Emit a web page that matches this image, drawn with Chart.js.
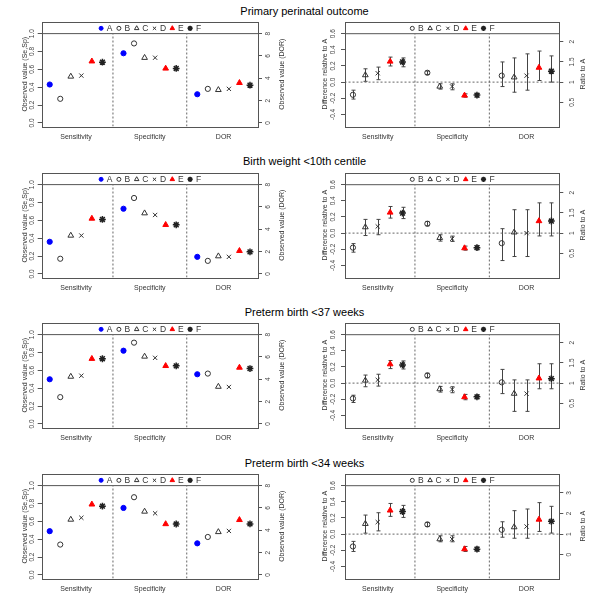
<!DOCTYPE html>
<html><head><meta charset="utf-8">
<script src="https://cdn.jsdelivr.net/npm/chart.js@4/dist/chart.umd.min.js"></script>
<style>
html,body{margin:0;padding:0;background:#fff;width:600px;height:600px;overflow:hidden;position:relative;font-family:"Liberation Sans",Arial,sans-serif;}
.title{position:absolute;left:0;width:609px;text-align:center;font-size:11px;color:#000;line-height:12px;white-space:nowrap;}
canvas{position:absolute;}
</style></head><body>
<script>
// ---------------- data ----------------
const TITLES = ["Primary perinatal outcome", "Birth weight <10th centile", "Preterm birth <37 weeks", "Preterm birth <34 weeks"];
const METHODS = ["A", "B", "C", "D", "E", "F"];
const MEASURES = ["Sensitivity", "Specificity", "DOR"];

// Observed values, methods A..F (one row per outcome)
const OBS_SENS = [
  [0.43, 0.27, 0.52, 0.53, 0.69, 0.68],
  [0.36, 0.17, 0.43, 0.43, 0.62, 0.61],
  [0.50, 0.30, 0.53, 0.54, 0.73, 0.73],
  [0.49, 0.34, 0.62, 0.64, 0.79, 0.77]];
const OBS_SPEC = [
  [0.78, 0.89, 0.73, 0.73, 0.61, 0.61],
  [0.73, 0.85, 0.68, 0.66, 0.55, 0.55],
  [0.82, 0.91, 0.755, 0.74, 0.65, 0.65],
  [0.75, 0.87, 0.71, 0.69, 0.57, 0.57]];
const OBS_DOR = [
  [2.57, 3.05, 2.96, 3.05, 3.59, 3.38],
  [1.53, 1.17, 1.59, 1.53, 2.07, 1.98],
  [4.45, 4.51, 3.34, 3.31, 5.05, 4.96],
  [2.83, 3.40, 3.85, 3.94, 4.93, 4.57]];

// Differences relative to A, methods B..F
const DIFF_SENS = [
  [-0.157, 0.087, 0.11, 0.256, 0.25],
  [-0.18, 0.074, 0.083, 0.256, 0.248],
  [-0.19, 0.033, 0.04, 0.235, 0.226],
  [-0.153, 0.128, 0.149, 0.294, 0.28]];
const DIFF_SENS_LO = [
  [-0.21, 0.01, 0.03, 0.20, 0.19],
  [-0.236, -0.03, -0.02, 0.186, 0.18],
  [-0.24, -0.045, -0.037, 0.18, 0.175],
  [-0.215, 0.012, 0.04, 0.22, 0.207]];
const DIFF_SENS_HI = [
  [-0.10, 0.165, 0.186, 0.31, 0.30],
  [-0.13, 0.17, 0.17, 0.33, 0.32],
  [-0.15, 0.10, 0.11, 0.28, 0.275],
  [-0.09, 0.236, 0.265, 0.38, 0.356]];
const DIFF_SPEC = [
  [0.116, -0.054, -0.054, -0.165, -0.161],
  [0.116, -0.058, -0.07, -0.186, -0.18],
  [0.095, -0.074, -0.078, -0.173, -0.17],
  [0.12, -0.062, -0.062, -0.186, -0.186]];
const DIFF_SPEC_LO = [
  [0.095, -0.087, -0.095, -0.186, -0.186],
  [0.091, -0.099, -0.103, -0.211, -0.207],
  [0.066, -0.111, -0.119, -0.206, -0.193],
  [0.095, -0.095, -0.095, -0.215, -0.211]];
const DIFF_SPEC_HI = [
  [0.137, -0.021, -0.021, -0.145, -0.141],
  [0.145, -0.021, -0.037, -0.161, -0.157],
  [0.123, -0.041, -0.045, -0.14, -0.144],
  [0.145, -0.021, -0.021, -0.153, -0.161]];
const RATIO_DOR = [
  [1.16, 1.12, 1.16, 1.36, 1.27],
  [0.75, 1.02, 1.00, 1.30, 1.30],
  [1.02, 0.74, 0.74, 1.12, 1.11],
  [1.21, 1.34, 1.37, 1.71, 1.62]];
const RATIO_DOR_LO = [
  [0.89, 0.75, 0.80, 1.04, 1.00],
  [0.32, 0.42, 0.42, 0.93, 0.93],
  [0.74, 0.30, 0.30, 0.86, 0.86],
  [0.85, 0.80, 0.80, 1.13, 1.05]];
const RATIO_DOR_HI = [
  [1.50, 1.60, 1.70, 1.77, 1.65],
  [1.11, 1.58, 1.58, 1.75, 1.75],
  [1.34, 1.08, 1.08, 1.48, 1.48],
  [1.60, 2.14, 2.22, 2.53, 2.35]];

// Tick labels
const OBS_TICKS = [0, 0.2, 0.4, 0.6, 0.8, 1.0];
const DOR_TICKS = [0, 2, 4, 6, 8];
const DIFF_TICKS = [-0.4, -0.2, 0.0, 0.2, 0.4, 0.6];
const RATIO_TICKS = [[0.5, 1, 1.5, 2], [0.5, 1, 1.5, 2], [0.5, 1, 1.5, 2], [0, 1, 2, 3]];
// ratio axis: difference-units per ratio unit
const RATIO_UNIT = [0.5, 0.5, 0.5, 0.255];

// ---------------- layout / style ----------------
const ROW_TOP = [0, 150.7, 301.3, 452.3];
const STYLE = [
  { pointStyle: 'circle', bg: '#0000ff', border: '#0000ff', r: 2.6, lr: 2.0, bw: 1 },
  { pointStyle: 'circle', bg: 'rgba(0,0,0,0)', border: '#333', r: 2.6, lr: 2.0, bw: 1 },
  { pointStyle: 'triangle', bg: 'rgba(0,0,0,0)', border: '#333', r: 3.3, lr: 2.6, bw: 1 },
  { pointStyle: 'crossRot', bg: 'rgba(0,0,0,0)', border: '#333', r: 3.0, lr: 2.3, bw: 1 },
  { pointStyle: 'triangle', bg: '#ff0000', border: '#ff0000', r: 3.3, lr: 2.6, bw: 1 },
  { pointStyle: 'star', bg: '#222', border: '#222', r: 3.4, lr: 2.6, bw: 1.5 }
];
const FONT = "'Liberation Sans', Arial, sans-serif";
Chart.defaults.font.family = FONT;
Chart.defaults.color = '#444';

function drawMarker(ctx, st, r, x, y) {
  ctx.save();
  ctx.fillStyle = st.bg; ctx.strokeStyle = st.border; ctx.lineWidth = st.bw;
  if (Chart.helpers && Chart.helpers.drawPoint) {
    Chart.helpers.drawPoint(ctx, { pointStyle: st.pointStyle, radius: r, rotation: 0, borderWidth: st.bw }, x, y);
  } else {
    ctx.beginPath(); ctx.arc(x, y, r, 0, Math.PI * 2); ctx.fill(); ctx.stroke();
  }
  ctx.restore();
}

const rExtras = {
  id: 'rExtras',
  beforeDatasetsDraw(chart) {
    const ctx = chart.ctx;
    chart.data.datasets.forEach(ds => {
      if (!ds.errorBars) return;
      const ys = chart.scales[ds.yAxisID], xs = chart.scales.x;
      ctx.save(); ctx.strokeStyle = '#444'; ctx.lineWidth = 1;
      ds.data.forEach(d => {
        const px = Math.round(xs.getPixelForValue(d.x)) + 0.5;
        const p1 = ys.getPixelForValue(d.lo), p2 = ys.getPixelForValue(d.hi);
        ctx.beginPath();
        ctx.moveTo(px, p1); ctx.lineTo(px, p2);
        ctx.moveTo(px - 2, p1); ctx.lineTo(px + 2, p1);
        ctx.moveTo(px - 2, p2); ctx.lineTo(px + 2, p2);
        ctx.stroke();
      });
      ctx.restore();
    });
  },
  afterDraw(chart) {
    const o = chart.options.plugins.rExtras;
    const ctx = chart.ctx, a = chart.chartArea;
    ctx.save();
    ctx.strokeStyle = '#555'; ctx.lineWidth = 1;
    ctx.strokeRect(Math.round(a.left) + 0.5, Math.round(a.top) + 0.5, Math.round(a.right - a.left), Math.round(a.bottom - a.top));
    // legend band
    const bandY = chart.scales.y.getPixelForValue(o.bandAt);
    const cy = (a.top + bandY) / 2 + 0.5;
    const n = o.items.length, pitch = 17.8, gap = 8.5;
    const cx = (a.left + a.right) / 2;
    let x0 = cx - ((n - 1) * pitch + gap) / 2;
    ctx.font = "8.5px " + FONT; ctx.textAlign = 'center'; ctx.textBaseline = 'middle';
    o.items.forEach((mi, k) => {
      const mx = x0 + k * pitch;
      drawMarker(ctx, STYLE[mi], STYLE[mi].lr, mx, cy);
      ctx.fillStyle = '#333';
      ctx.fillText(METHODS[mi], mx + gap, cy + 0.5);
    });
    // axis titles (R style, both read bottom-to-top)
    ctx.font = "7px " + FONT; ctx.fillStyle = '#333';
    const my = (a.top + a.bottom) / 2;
    [[o.leftTitleX, o.leftTitle], [o.rightTitleX, o.rightTitle]].forEach(([x, t]) => {
      ctx.save(); ctx.translate(x, my); ctx.rotate(-Math.PI / 2);
      ctx.textAlign = 'center'; ctx.textBaseline = 'middle'; ctx.fillText(t, 0, 0);
      ctx.restore();
    });
    ctx.restore();
  }
};

function lineDs(points, yAxisID, dash) {
  return { type: 'line', data: points, yAxisID, showLine: true, borderColor: dash.length ? '#666' : '#555', borderWidth: 1,
    borderDash: dash, pointRadius: 0, fill: false, order: 20, tension: 0 };
}

function pointDs(mi, data, yAxisID, err) {
  const st = STYLE[mi];
  return { label: METHODS[mi], data, yAxisID, pointStyle: st.pointStyle, pointRadius: st.r,
    pointBackgroundColor: st.bg, pointBorderColor: st.border, pointBorderWidth: st.bw,
    showLine: false, errorBars: !!err, order: 1 };
}

function yAxis(pos, min, max, ticks, fmt, width, pad) {
  return {
    type: 'linear', position: pos, min, max,
    grid: { drawOnChartArea: false, drawTicks: true, tickLength: 4, tickColor: '#555', color: '#555' },
    border: { display: false },
    afterBuildTicks: s => { s.ticks = ticks.map(v => ({ value: v })); },
    afterFit: s => { s.width = width; },
    ticks: { minRotation: 90, maxRotation: 90, crossAlign: 'center', padding: pad,
      font: { size: 6.5 }, color: '#444', callback: v => fmt(v) }
  };
}

function xAxis(min, max, tickVals) {
  return {
    type: 'linear', position: 'bottom', min, max,
    grid: { drawOnChartArea: false, drawTicks: false, tickLength: 0, display: true },
    border: { display: false },
    afterBuildTicks: s => { s.ticks = tickVals.map(v => ({ value: v })); },
    afterFit: s => { s.height = 23.5; },
    ticks: { autoSkip: false, maxRotation: 0, minRotation: 0, padding: 6, font: { size: 7 }, color: '#333',
      callback: v => MEASURES[tickVals.indexOf(v)] }
  };
}

function makeCanvas(x, y) {
  const c = document.createElement('canvas');
  c.width = 300; c.height = 150;
  c.style.left = x + 'px'; c.style.top = y + 'px';
  c.style.width = '300px'; c.style.height = '150px';
  document.body.appendChild(c);
  return c;
}

const OBS_Y = [-0.04, 1.13];
const DIFF_Y = [-0.55, 0.745];

for (let r = 0; r < 4; r++) {
  const t = document.createElement('div');
  t.className = 'title'; t.style.top = (ROW_TOP[r] + 4.5) + 'px'; t.textContent = TITLES[r];
  document.body.appendChild(t);

  // ---- left panel: observed values ----
  const dsL = [];
  for (let i = 0; i < 6; i++) {
    dsL.push(pointDs(i, [{ x: 1 + i, y: OBS_SENS[r][i] }, { x: 8 + i, y: OBS_SPEC[r][i] }], 'y', false));
    dsL.push(pointDs(i, [{ x: 15 + i, y: OBS_DOR[r][i] }], 'y2', false));
  }
  dsL.push(lineDs([{ x: 7, y: OBS_Y[0] }, { x: 7, y: 1 }], 'y', [2, 2]));
  dsL.push(lineDs([{ x: 14, y: OBS_Y[0] }, { x: 14, y: 1 }], 'y', [2, 2]));
  dsL.push(lineDs([{ x: 0, y: 1 }, { x: 22, y: 1 }], 'y', []));
  new Chart(makeCanvas(0, ROW_TOP[r]), {
    type: 'scatter',
    data: { datasets: dsL },
    options: {
      responsive: false, animation: false, devicePixelRatio: 1,
      layout: { padding: { top: 22, left: 0, right: 0, bottom: 0 } },
      plugins: { legend: { display: false }, tooltip: { enabled: false },
        rExtras: { items: [0, 1, 2, 3, 4, 5], bandAt: 1.0, leftTitle: 'Observed value (Se,Sp)', leftTitleX: 25,
          rightTitle: 'Observed value (DOR)', rightTitleX: 281.7 } },
      scales: {
        x: xAxis(0.24, 20.76, [3.5, 10.5, 17.5]),
        y: yAxis('left', OBS_Y[0], OBS_Y[1], OBS_TICKS, v => v.toFixed(1), 41.7, 1),
        y2: yAxis('right', OBS_Y[0] * 8, OBS_Y[1] * 8, DOR_TICKS, v => String(v), 42, 4.6)
      }
    },
    plugins: [rExtras]
  });

  // ---- right panel: differences relative to A ----
  const dsR = [];
  for (let j = 0; j < 5; j++) {
    const mi = j + 1;
    dsR.push(pointDs(mi, [
      { x: 1 + j, y: DIFF_SENS[r][j], lo: DIFF_SENS_LO[r][j], hi: DIFF_SENS_HI[r][j] },
      { x: 7 + j, y: DIFF_SPEC[r][j], lo: DIFF_SPEC_LO[r][j], hi: DIFF_SPEC_HI[r][j] }], 'y', true));
    dsR.push(pointDs(mi, [
      { x: 13 + j, y: RATIO_DOR[r][j], lo: RATIO_DOR_LO[r][j], hi: RATIO_DOR_HI[r][j] }], 'y2', true));
  }
  dsR.push(lineDs([{ x: 6, y: DIFF_Y[0] }, { x: 6, y: 0.6 }], 'y', [2, 2]));
  dsR.push(lineDs([{ x: 12, y: DIFF_Y[0] }, { x: 12, y: 0.6 }], 'y', [2, 2]));
  dsR.push(lineDs([{ x: 0, y: 0 }, { x: 18, y: 0 }], 'y', [2, 2]));
  dsR.push(lineDs([{ x: 0, y: 0.6 }, { x: 18, y: 0.6 }], 'y', []));
  const f = RATIO_UNIT[r];
  new Chart(makeCanvas(300, ROW_TOP[r]), {
    type: 'scatter',
    data: { datasets: dsR },
    options: {
      responsive: false, animation: false, devicePixelRatio: 1,
      layout: { padding: { top: 22, left: 0, right: 0, bottom: 0 } },
      plugins: { legend: { display: false }, tooltip: { enabled: false },
        rExtras: { items: [1, 2, 3, 4, 5], bandAt: 0.6, leftTitle: 'Difference relative to A', leftTitleX: 25,
          rightTitle: 'Ratio to A', rightTitleX: 282.7 } },
      scales: {
        x: xAxis(0.36, 17.64, [3, 9, 15]),
        y: yAxis('left', DIFF_Y[0], DIFF_Y[1], DIFF_TICKS, v => v.toFixed(1), 45, 2.5),
        y2: yAxis('right', 1 + DIFF_Y[0] / f, 1 + DIFF_Y[1] / f, RATIO_TICKS[r], v => String(v), 40.7, 4.2)
      }
    },
    plugins: [rExtras]
  });
}
</script>
</body></html>
